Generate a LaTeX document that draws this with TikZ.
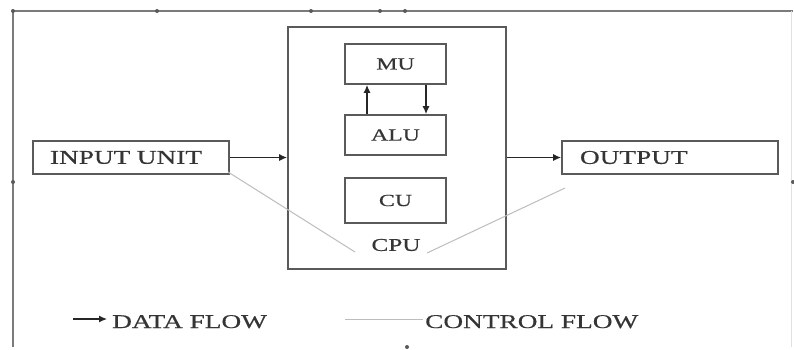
\documentclass[tikz,border=0pt]{standalone}
\usepackage{fontspec}
\setmainfont{Liberation Serif}
\newfontfamily\wf[FakeStretch=1.4,FakeBold=0.4]{Liberation Serif}
\usetikzlibrary{arrows.meta,calc}
\definecolor{ln}{HTML}{5A5A5A}
\definecolor{tx}{HTML}{353535}
\definecolor{ctl}{HTML}{BDBDBD}
\tikzset{
  unitbox/.style={draw=ln,line width=1.8pt,rectangle,inner sep=0pt,text=tx,font=\wf\fontsize{17}{18}\selectfont},
  iobox/.style={draw=ln,line width=1.8pt,rectangle,inner ysep=0pt,text=tx,align=left,font=\wf\fontsize{19.5}{20}\selectfont},
  lbl/.style={inner sep=0pt,text=tx,font=\wf\fontsize{19.5}{20}\selectfont},
  dataarr/.style={draw=black!85,line width=1.2pt,-{Latex[length=8pt,width=7pt]}},
  ctlline/.style={draw=ctl,line width=1pt},
  frame/.style={draw=ln!80,line width=1.6pt},
  handle/.style={fill=ln,draw=none,circle,inner sep=0pt,minimum size=4pt}
}
\begin{document}
\begin{tikzpicture}[x=1pt,y=-1pt]
\useasboundingbox (0,0) rectangle (794,349);
\fill[white] (0,0) rectangle (794,349);
% outer frame
\coordinate (ftl) at (13,11);
\coordinate (ftr) at (793,11);
\coordinate (fbl) at (13,347);
\coordinate (frt) at (791,11);
\coordinate (frb) at (791,347);
\draw[frame] (ftr) -- (ftl) -- (fbl);
\draw[draw=black!12,line width=0.8pt] (frt) -- (frb);
\foreach \hx/\hy [count=\i] in {13/11,157/11,311/11,380/11,405/11,13/182,793/182,407/347}
  \node[handle] (h\i) at (\hx,\hy) {};
% CPU
\node[draw=ln,line width=1.8pt,rectangle,minimum width=218pt,minimum height=242pt,inner sep=0pt] (CPU) at (397,148) {};
\node[lbl,font=\wf\fontsize{18}{19}\selectfont] (CPUl) at (396,245) {CPU};
\node[unitbox,minimum width=101pt,minimum height=40pt] (MU) at (395.5,64) {MU};
\node[unitbox,minimum width=101pt,minimum height=40pt] (ALU) at (395.5,135) {ALU};
\node[unitbox,minimum width=101pt,minimum height=45pt] (CU) at (395.5,200.5) {CU};
\draw[dataarr] ([xshift=-28.5pt]ALU.north) -- ([xshift=-28.5pt]MU.south);
\draw[dataarr] ([xshift=30.5pt]MU.south) -- ([xshift=30.5pt]ALU.north);
% input / output
\node[iobox,minimum height=33pt,inner xsep=17pt,text width=162pt] (IN) at (131,157.5) {INPUT UNIT};
\node[iobox,minimum height=33pt,inner xsep=18pt,text width=180pt] (OUT) at (670,157.5) {OUTPUT};
\draw[dataarr] (IN.east) -- (IN.east -| CPU.west);
\draw[dataarr] (CPU.east |- OUT.west) -- (OUT.west);
% control flow
\coordinate (cl1) at (355,252);
\coordinate (cr0) at (565,188);
\coordinate (cr1) at (427,253);
\draw[ctlline] ([xshift=-2pt,yshift=3pt]IN.south east) -- (cl1);
\draw[ctlline] (cr0) -- (cr1);
% legend
\coordinate (la0) at (73,319);
\node[lbl,anchor=base west] (ldata) at (112,328) {DATA FLOW};
\draw[dataarr] (la0) -- ([xshift=-5pt]la0 -| ldata.west);
\coordinate (lc0) at (345,319);
\node[lbl,anchor=base west] (lctl) at (425,328) {CONTROL FLOW};
\draw[ctlline] (lc0) -- ([xshift=-2pt]lc0 -| lctl.west);
\end{tikzpicture}
\end{document}
